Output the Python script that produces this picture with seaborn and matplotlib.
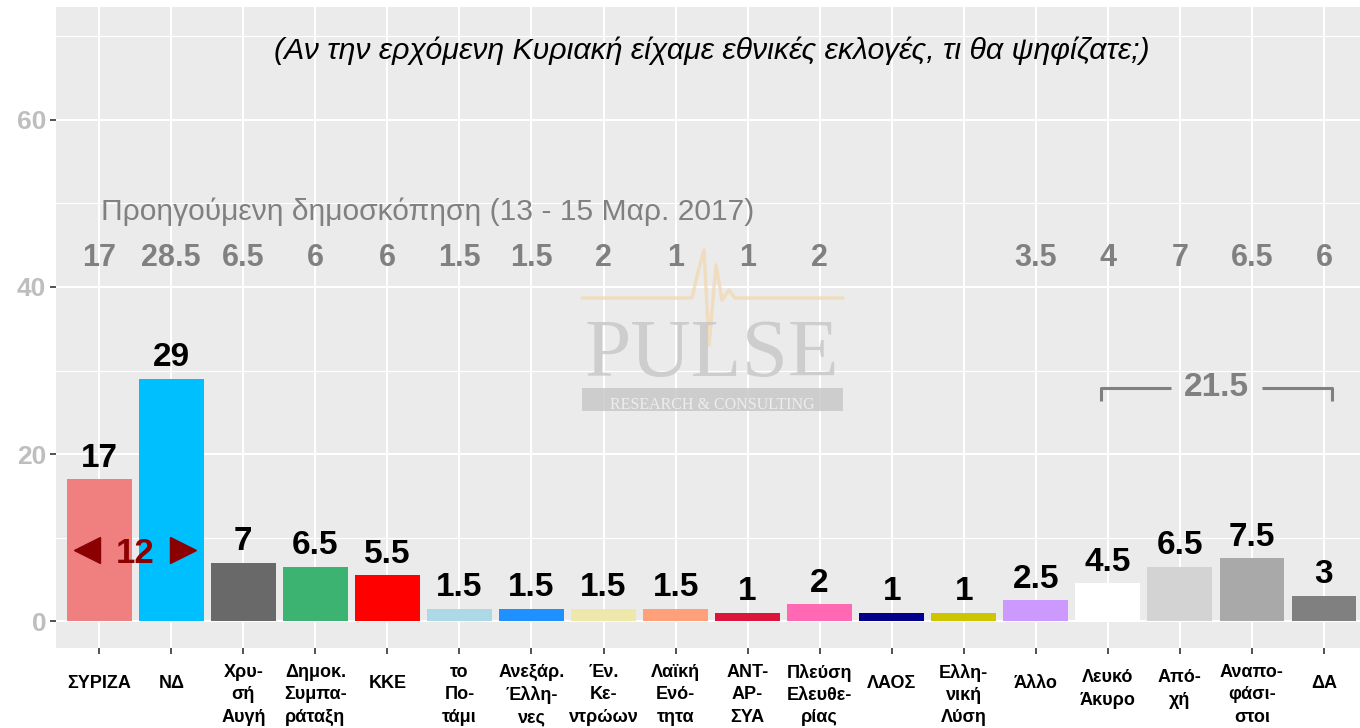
import matplotlib
matplotlib.use("Agg")
import matplotlib.pyplot as plt
from matplotlib.ticker import MultipleLocator, FixedLocator
from matplotlib.patches import Rectangle
from matplotlib.lines import Line2D
import seaborn as sns
import pandas as pd

# ---------------- data ----------------
parties = ["ΣΥΡΙΖΑ", "ΝΔ", "Χρυ-\nσή\nΑυγή", "Δημοκ.\nΣυμπα-\nράταξη", "ΚΚΕ",
           "το\nΠο-\nτάμι", "Ανεξάρ.\nΈλλη-\nνες", "Έν.\nΚε-\nντρώων",
           "Λαϊκή\nΕνό-\nτητα", "ΑΝΤ-\nΑΡ-\nΣΥΑ", "Πλεύση\nΕλευθε-\nρίας", "ΛΑΟΣ",
           "Ελλη-\nνική\nΛύση", "Άλλο", "Λευκό\nΆκυρο", "Από-\nχή",
           "Αναπο-\nφάσι-\nστοι", "ΔΑ"]
values = [17, 29, 7, 6.5, 5.5, 1.5, 1.5, 1.5, 1.5, 1, 2, 1, 1, 2.5, 4.5, 6.5, 7.5, 3]
previous = [17, 28.5, 6.5, 6, 6, 1.5, 1.5, 2, 1, 1, 2, None, None, 3.5, 4, 7, 6.5, 6]
colors = ["#F08080", "#00BFFF", "#696969", "#3CB371", "#FF0000", "#ADD8E6",
          "#1E90FF", "#EEE8AA", "#FFA07A", "#DC143C", "#FF69B4", "#00008B",
          "#CDC500", "#CC99FF", "#FFFFFF", "#D3D3D3", "#A9A9A9", "#808080"]
lead_gap = 12
others_total = 21.5
title = "(Αν την ερχόμενη Κυριακή είχαμε εθνικές εκλογές, τι θα ψηφίζατε;)"
prev_title = "Προηγούμενη δημοσκόπηση (13 - 15 Μαρ. 2017)"
yticks = [0, 20, 40, 60]

df = pd.DataFrame({"party": parties, "value": values})

# ---------------- style ----------------
sns.set_theme(style="darkgrid", rc={
    "axes.facecolor": "#EBEBEB",
    "figure.facecolor": "white",
    "grid.color": "white",
})
plt.rcParams["font.family"] = ["Liberation Sans", "DejaVu Sans"]

fig = plt.figure(figsize=(13.6, 7.28), dpi=100)
ax = fig.add_axes([56 / 1360, 80 / 728, 1 - 56 / 1360, (648 - 7) / 728])

sns.barplot(data=df, x="party", y="value", hue="party", palette=colors,
            legend=False, width=0.9, linewidth=0, saturation=1, ax=ax)

ax.set_xlim(-0.6, 17.5)
ax.set_ylim(-3.23, 73.53)
ax.set_xlabel("")
ax.set_ylabel("")
for s in ax.spines.values():
    s.set_visible(False)

# grid
ax.yaxis.set_major_locator(FixedLocator(yticks))
ax.yaxis.set_minor_locator(MultipleLocator(10))
ax.grid(which="major", color="white", linewidth=1.5)
ax.grid(which="minor", axis="y", color="white", linewidth=0.8)
ax.set_axisbelow(True)

ax.tick_params(axis="y", which="major", length=4, width=1.2, color="#333333",
               labelsize=19, labelcolor="#BEBEBE", pad=3, left=True)
ax.tick_params(axis="y", which="minor", length=0)
ax.tick_params(axis="x", which="major", length=4, width=1.2, color="#333333",
               labelsize=13, labelcolor="black", pad=29, bottom=True)
for lab in ax.get_yticklabels():
    lab.set_fontweight("bold")
for lab in ax.get_xticklabels():
    lab.set_fontweight("bold")
    lab.set_va("center")
    lab.set_multialignment("center")
    lab.set_linespacing(1.4)
# labels with fewer lines sit a little higher, as in the reference
pad_by_lines = {1: 21.2, 2: 25.5, 3: 29.8}
for tick, name in zip(ax.xaxis.get_major_ticks(), parties):
    tick.set_pad(pad_by_lines[name.count("\n") + 1])

# value labels
for i, v in enumerate(values):
    ax.text(i, v + 1.5, f"{v:g}", ha="center", va="baseline",
            fontsize=24, fontweight="bold", color="black")

# previous poll labels
for i, p in enumerate(previous):
    if p is not None:
        ax.text(i, 42.5, f"{p:g}", ha="center", va="baseline",
                fontsize=22, fontweight="bold", color="#808080")
ax.text(0.03, 48.0, prev_title, ha="left", va="baseline", fontsize=21.6,
        color="#808080")

# title
ax.text(8.5, 67.3, title, ha="center", va="baseline", fontsize=21.8,
        style="italic", color="black")

# lead annotation
ax.text(0.5, 6.9, f"{lead_gap:g}", ha="center", va="baseline", fontsize=25,
        fontweight="bold", color="#8B0000")
ax.plot([-0.17], [8.5], marker="<", markersize=19, color="#8B0000",
        linestyle="none")
ax.plot([1.165], [8.5], marker=">", markersize=19, color="#8B0000",
        linestyle="none")

# bracket for others
bc = "#808080"
ax.plot([13.9, 13.9, 14.87], [26.4, 27.9, 27.9], color=bc, linewidth=2.2,
        solid_capstyle="butt")
ax.plot([16.14, 17.11, 17.11], [27.9, 27.9, 26.4], color=bc, linewidth=2.2,
        solid_capstyle="butt")
ax.text(15.5, 26.9, f"{others_total:g}", ha="center", va="baseline",
        fontsize=24, fontweight="bold", color=bc)

# watermark
def fx(px):
    return px / 1360

def fy(py):
    return 1 - py / 728

hb_x = [582, 692, 698, 704, 709, 716, 722, 729, 735, 843]
hb_y = [298, 298, 272, 250, 345, 265, 300, 290, 298, 298]
fig.add_artist(Line2D([fx(x) for x in hb_x], [fy(y) for y in hb_y],
                      color="#F2D9B5", alpha=0.8, linewidth=2.5,
                      transform=fig.transFigure))
fig.text(fx(712), fy(376), "PULSE", ha="center", va="baseline",
         fontsize=60, family="Liberation Serif", color="#C8C8C8", alpha=0.85)
fig.add_artist(Rectangle((fx(582), fy(411)), fx(843) - fx(582), fy(388) - fy(411),
                         transform=fig.transFigure, color="#C8C8C8",
                         alpha=0.85, linewidth=0))
fig.text(fx(712), fy(409), "RESEARCH & CONSULTING",
         ha="center", va="baseline", fontsize=11.5, family="Liberation Serif",
         color="#EDEDED")

fig.savefig("out.png", dpi=100)
